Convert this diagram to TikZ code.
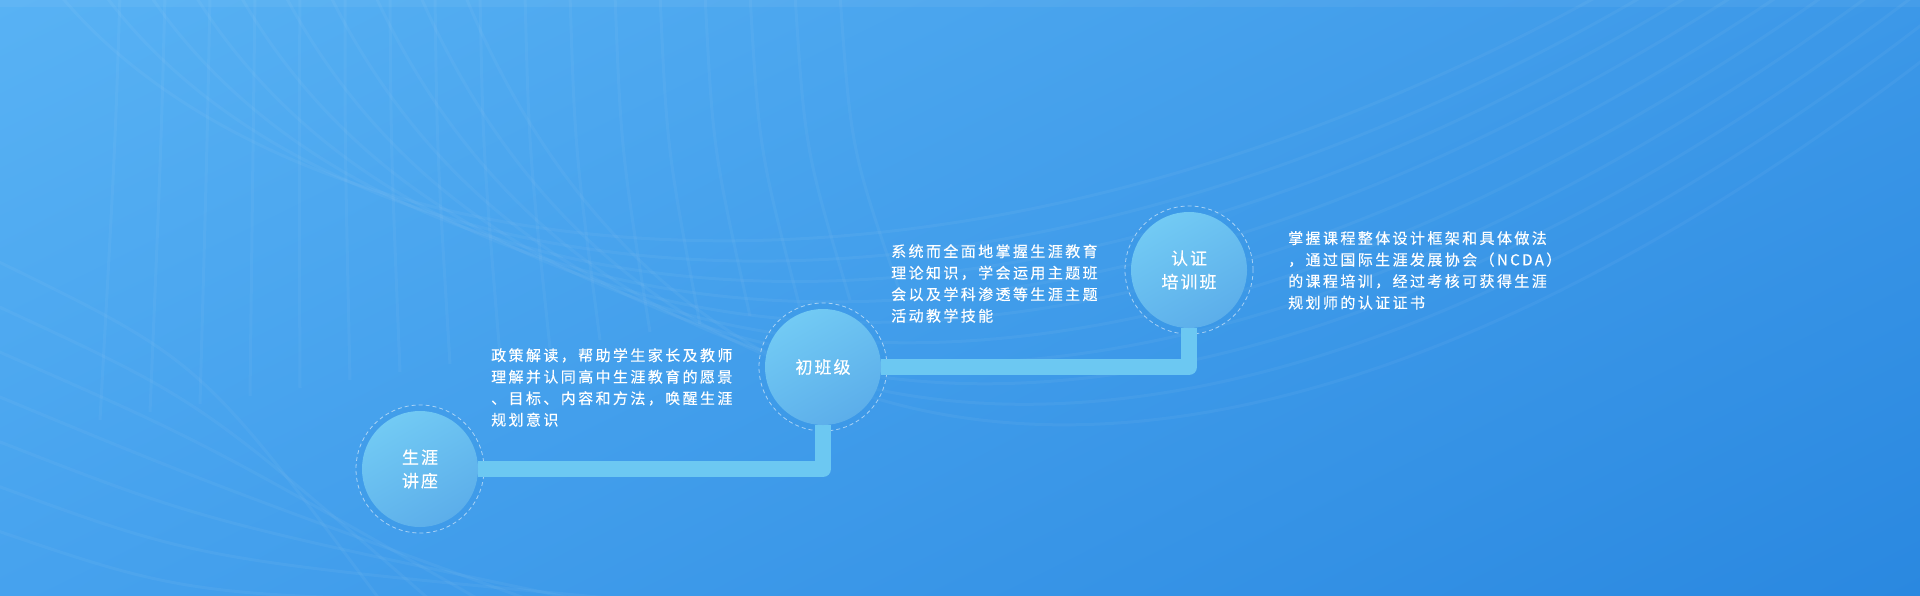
\documentclass[tikz,border=0pt]{standalone}
\usepackage{fontspec}
\setmainfont{Noto Sans CJK SC}
\newfontfamily\cjk[LetterSpace=16, FakeBold=0.3]{Noto Sans CJK SC}
\newfontfamily\cjkring[LetterSpace=12, FakeBold=0.3]{Noto Sans CJK SC}
\usetikzlibrary{positioning, backgrounds, shadings}

\definecolor{bgul}{HTML}{58B2F4}
\definecolor{bgur}{HTML}{3C98E8}
\definecolor{bgll}{HTML}{46A2EE}
\definecolor{bglr}{HTML}{2A88E0}
\definecolor{ballhi}{HTML}{72CAF4}
\definecolor{balllo}{HTML}{5CAEEA}
\definecolor{ringblue}{HTML}{3A98E6}
\definecolor{barblue}{HTML}{6CC8F2}

\begin{document}
\begin{tikzpicture}[
    x=1pt, y=-1pt,
    stage/.style={circle, shade, top color=ballhi, bottom color=balllo, shading angle=30, minimum size=116pt, inner sep=0pt, align=center, text=white, font=\cjkring\fontsize{17}{23.5}\selectfont},
    note/.style={anchor=north west, inner sep=0pt, align=left, text=white, font=\cjk\fontsize{15}{21.5}\selectfont},
    ring/.style={draw=white, draw opacity=0.55, dash pattern=on 4pt off 3pt, line width=0.8pt, fill=ringblue, fill opacity=0.35},
    track/.style={draw=barblue, line width=16pt, line join=round},
    meshline/.style={draw=white, opacity=0.045, line width=3pt}
  ]
  \useasboundingbox (0,0) rectangle (1920,595);

  % stages
  \node[stage] (lecture) at (420,469) {生涯\\讲座};
  \node[stage] (basic) at (823,367) {初班级};
  \node[stage] (cert) at (1189,270) {认证\\培训班};

  % descriptions
  \node[note] (lecturetext) at (491,348) {政策解读，帮助学生家长及教师\\理解并认同高中生涯教育的愿景\\、目标、内容和方法，唤醒生涯\\规划意识};
  \node[note] (basictext) at (891,244) {系统而全面地掌握生涯教育\\理论知识，学会运用主题班\\会以及学科渗透等生涯主题\\活动教学技能};
  \node[note] (certtext) at (1288,231) {掌握课程整体设计框架和具体做法\\，通过国际生涯发展协会（NCDA）\\的课程培训，经过考核可获得生涯\\规划师的认证证书};

  \begin{scope}[on background layer]
    \shade[upper left=bgul, upper right=bgur, lower left=bgll, lower right=bglr] (0,0) rectangle (1920,595);
    \fill[white, opacity=0.05] (0,0) rectangle (1920,7);
    % mesh
    \foreach \i in {0,...,9}
      \draw[meshline] (60+45*\i,-5) .. controls (280+45*\i,260+30*\i) and (900+40*\i,380+25*\i) .. (1600+45*\i,-5);
    \foreach \i in {0,...,16}
      \draw[meshline] (120+45*\i,-5) .. controls (115+46*\i,150) .. (100+50*\i,420-8*\i);
    \foreach \i in {0,...,6}
      \draw[meshline] (-5,260+45*\i) .. controls (200,360+40*\i) .. (380+50*\i,600);
    % rings
    \filldraw[ring] (lecture) circle[radius=64pt];
    \filldraw[ring] (basic) circle[radius=64pt];
    \filldraw[ring] (cert) circle[radius=64pt];
    % track
    \draw[track] (lecture) -- (lecture -| basic) -- (basic);
    \draw[track] (basic) -- (basic -| cert) -- (cert);
  \end{scope}
\end{tikzpicture}
\end{document}
